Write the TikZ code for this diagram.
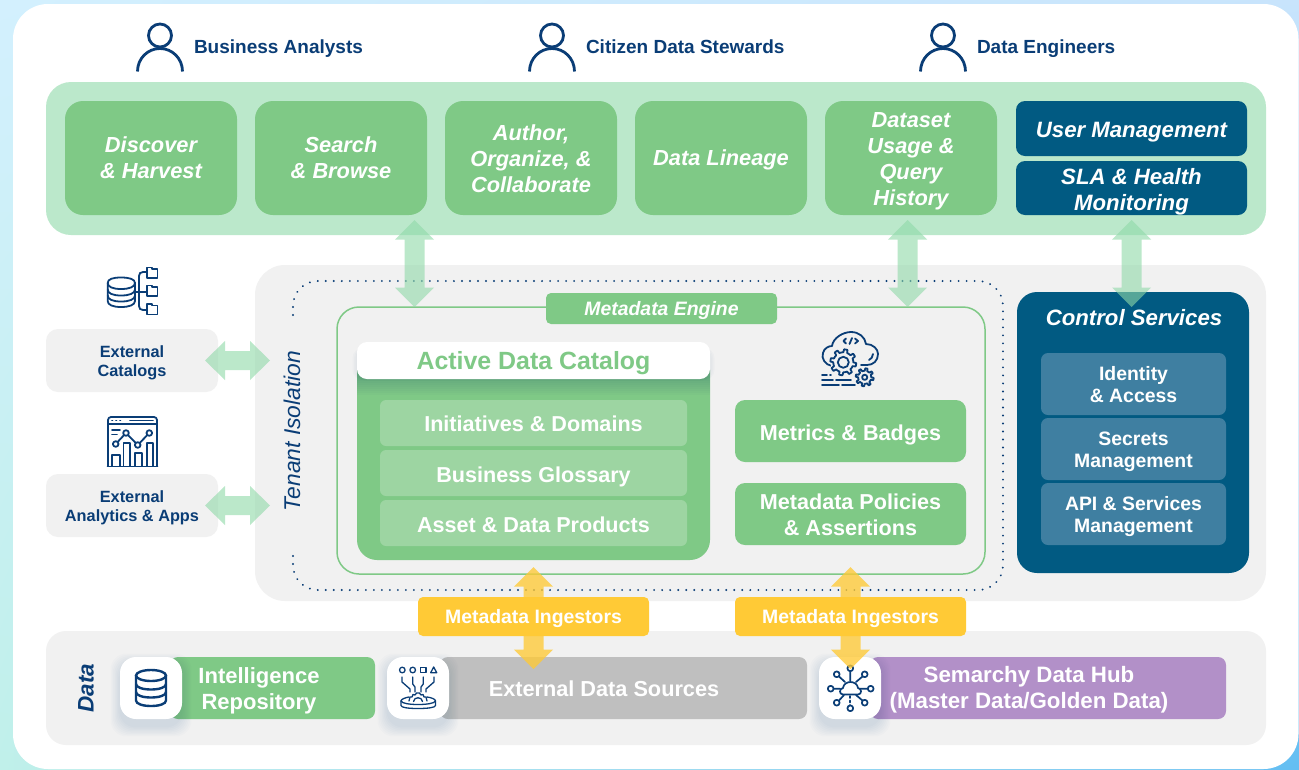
\documentclass[tikz,border=0pt]{standalone}
\usepackage{fontspec}
\setmainfont{Liberation Sans}
\usetikzlibrary{calc,shadings}
\definecolor{navy}{HTML}{0A3D76}
\definecolor{bandg}{HTML}{BBE8CB}
\definecolor{boxg}{HTML}{7FC986}
\definecolor{lightg}{HTML}{9DD5A2}
\definecolor{deepb}{HTML}{015A82}
\definecolor{midb}{HTML}{3F7FA1}
\definecolor{paleg}{HTML}{F1F1F1}
\definecolor{yell}{HTML}{FFCA36}
\definecolor{greyb}{HTML}{BFBFBF}
\definecolor{purp}{HTML}{B290C8}
\definecolor{arrowg}{HTML}{8FD9A8}
\definecolor{bgul}{HTML}{D3F0FE}
\definecolor{bgur}{HTML}{C8E4FC}
\definecolor{bgll}{HTML}{C0F0EA}
\definecolor{bglr}{HTML}{64BEF2}
\newcommand{\fsz}[2]{\fontsize{#1pt}{#2pt}\selectfont}
\newcommand{\capstrut}{\rule[-.214em]{0pt}{1.144em}}
\tikzset{
  strutted/.style={execute at begin node=\capstrut,execute at end node=\capstrut},
  bx/.style={inner sep=0pt,outer sep=0pt,align=center,text=white,strutted},
  ital/.style={font=\fsz{21.8}{26}\bfseries\itshape},
  plain/.style={font=\fsz{21.6}{26}\bfseries},
  ico/.style={draw=navy,line width=1.8pt,line cap=round,line join=round},
  lab/.style={inner sep=0pt,outer sep=0pt,align=center,text=white,strutted},
  darklab/.style={inner sep=0pt,outer sep=0pt,align=center,text=navy,strutted},
  userlab/.style={inner sep=0pt,outer sep=0pt,text=navy,anchor=base west,font=\fsz{19}{22}\bfseries},
  greenarrow/.style={fill=arrowg,opacity=.6},
  yellowarrow/.style={fill=yell,opacity=.78},
}
% \bx[text offset]{name}{style}{x1}{y1}{x2}{y2}{text}: a box, and its label as a node named <name>t
\newcommand{\bx}[8][0]{%
  \pgfmathsetmacro\cx{(#4+#6)/2}\pgfmathsetmacro\cy{(#5+#7)/2}%
  \pgfmathsetmacro\ww{#6-#4}\pgfmathsetmacro\hh{#7-#5}\pgfmathsetmacro\ty{\cy+#1}%
  \node[bx,minimum width=\ww pt,minimum height=\hh pt,#3] (#2) at (\cx,\cy) {};
  \node[bx,#3,fill=none,draw=none] (#2t) at (\cx,\ty) {#8};}
\newcommand{\softshadow}[5]{%
  \foreach \e in {1,...,8}{%
    \pgfmathsetmacro\xa{#1-\e*1.3+1}\pgfmathsetmacro\xb{#3+\e*1.3-1}%
    \pgfmathsetmacro\ya{#2-\e*1.3+7}\pgfmathsetmacro\yb{#4+\e*1.3+7}%
    \fill[navy,opacity=.017,rounded corners=#5pt] (\xa,\ya) rectangle (\xb,\yb);}}
\newcommand{\dblV}[3]{%
  \fill[#3] (#1) -- ($(#1)+(19.5,19.5)$) -- ($(#1)+(10,19.5)$) -- ($(#2)+(10,-19.5)$) -- ($(#2)+(19.5,-19.5)$) -- (#2)
   -- ($(#2)+(-19.5,-19.5)$) -- ($(#2)+(-10,-19.5)$) -- ($(#1)+(-10,19.5)$) -- ($(#1)+(-19.5,19.5)$) -- cycle;}
\newcommand{\dblH}[3]{%
  \fill[#3] (#1) -- ($(#1)+(20,-19.5)$) -- ($(#1)+(20,-9.5)$) -- ($(#2)+(-20,-9.5)$) -- ($(#2)+(-20,-19.5)$) -- (#2)
   -- ($(#2)+(-20,19.5)$) -- ($(#2)+(-20,9.5)$) -- ($(#1)+(20,9.5)$) -- ($(#1)+(20,19.5)$) -- cycle;}
\newcommand{\person}[1]{%
  \begin{scope}[shift={(#1,0)}]
  \draw[navy,line width=2.8pt] (0,35.5) circle (11.5);
  \draw[navy,line width=2.8pt] (-22.5,71.5) .. controls (-22.5,58.6) and (-12.4,48.5) .. (0,48.5) .. controls (12.4,48.5) and (22.5,58.6) .. (22.5,71.5);
  \end{scope}}
\newcommand{\gear}[5]{% cx cy r teeth-height fill
  \fill[#5] (#1,#2) circle (#3+#4);
  \draw[navy,line width=1.8pt,line join=round,fill=#5] plot[domain=0:360,samples=97,variable=\t] ({#1+(#3+#4*(sin(8*\t)>0))*cos(\t)},{#2+(#3+#4*(sin(8*\t)>0))*sin(\t)}) -- cycle;}
\begin{document}
\begin{tikzpicture}[x=1pt,y=-1pt]
\useasboundingbox (0,0) rectangle (1299,769);
\shade[upper left=bgul,upper right=bgur,lower left=bgll,lower right=bglr] (0,0) rectangle (1299,769);
\fill[white,rounded corners=35pt] (13,4) rectangle (1298.5,769);

% users
\person{160}\person{552}\person{943}
\node[userlab] (ba) at (194,53.5) {Business Analysts};
\node[userlab] (cs) at (586,53.5) {Citizen Data Stewards};
\node[userlab] (de) at (977,53.5) {Data Engineers};

% top band
\bx{band}{fill=bandg,rounded corners=25pt}{46}{82}{1266}{235}{}
\bx[2]{discover}{fill=boxg,rounded corners=18pt,ital}{65}{101}{237}{215}{Discover\\\& Harvest}
\bx[2]{search}{fill=boxg,rounded corners=18pt,ital}{255}{101}{427}{215}{Search\\\& Browse}
\bx[2.5]{author}{fill=boxg,rounded corners=18pt,ital}{445}{101}{617}{215}{Author,\\Organize, \&\\Collaborate}
\bx{lineage}{fill=boxg,rounded corners=18pt,ital}{635}{101}{807}{215}{Data Lineage}
\bx[3.5]{usage}{fill=boxg,rounded corners=18pt,ital}{825}{101}{997}{215}{Dataset\\Usage \&\\Query\\History}
\bx[1.5]{users}{fill=deepb,rounded corners=9pt,font=\fsz{22.2}{26}\bfseries\itshape}{1016}{101}{1247}{156}{User Management}
\bx[4]{sla}{fill=deepb,rounded corners=9pt,font=\fsz{22.2}{26}\bfseries\itshape}{1016}{161}{1247}{215}{SLA \& Health\\Monitoring}

% middle
\bx{tenant}{fill=paleg,rounded corners=30pt}{255}{265}{1266}{601}{}
\draw[navy,line width=2.1pt,dash pattern=on 0.01pt off 8pt,line cap=round] (293,315) -- (293,306) .. controls (293,292) and (304,281) .. (318,281) -- (978,281) .. controls (992,281) and (1003,292) .. (1003,306) -- (1003,565) .. controls (1003,579) and (992,590) .. (978,590) -- (318,590) .. controls (304,590) and (293,579) .. (293,565) -- (293,552);
\node[darklab,rotate=90,font=\fsz{22.8}{26}\itshape] (iso) at (292,431) {Tenant Isolation};
\bx{engine}{draw=boxg,line width=1.5pt,rounded corners=22pt}{337}{307}{985}{574}{}
\bx[0.5]{enginelab}{fill=boxg,rounded corners=5pt,font=\fsz{19.4}{22}\bfseries\itshape}{546}{293}{777}{324}{Metadata Engine}

\bx{catalog}{fill=boxg,rounded corners=20pt}{357}{350}{710}{560}{}
\begin{scope}
\clip[rounded corners=20pt] (357,350) rectangle (710,560);
\foreach \e in {1,...,8}{\pgfmathsetmacro\yb{379+\e*2}\fill[navy,opacity=.022] (357,370) rectangle (710,\yb);}
\end{scope}
\foreach \e in {1,...,3}{\pgfmathsetmacro\xa{357-\e*1.5}\pgfmathsetmacro\xb{710+\e*1.5}\fill[navy,opacity=.02,rounded corners=10pt] (\xa,348) rectangle (\xb,380);}
\bx{cathead}{fill=white,rounded corners=10pt,text=boxg,font=\fsz{24.9}{28}\bfseries}{357}{342}{710}{379}{Active Data Catalog}
\bx[1]{init}{fill=lightg,rounded corners=6pt,plain}{380}{400}{687}{446}{Initiatives \& Domains}
\bx[1.5]{gloss}{fill=lightg,rounded corners=6pt,plain}{380}{450}{687}{496}{Business Glossary}
\bx[1.5]{asset}{fill=lightg,rounded corners=6pt,plain}{380}{500}{687}{546}{Asset \& Data Products}
\bx[1.5]{metrics}{fill=boxg,rounded corners=10pt,plain}{735}{400}{966}{462}{Metrics \& Badges}
\bx[3]{policies}{fill=boxg,rounded corners=10pt,plain}{735}{483}{966}{545}{Metadata Policies\\\& Assertions}

% cloud + gears icon
\draw[ico] (832,366) .. controls (825,365) and (821,358) .. (823,353) .. controls (824,348) and (829,346) .. (832,346) .. controls (833,338) and (843,332) .. (851,332) .. controls (859,332) and (865,337) .. (866,344) .. controls (873,344) and (878,349) .. (878,354) .. controls (878,361) and (873,365) .. (867,365) -- (861,365);
\draw[ico] (873,354) .. controls (873,357) and (871,359) .. (869,360);
\draw[ico] (846,338.5) -- (843.5,341) -- (846,343.5);
\draw[ico] (849.5,344) -- (852,338);
\draw[ico] (855,338.5) -- (858,341) -- (855,343.5);
\gear{843.3}{362.3}{10}{3}{paleg}
\draw[ico] (843.3,362.3) circle (5.5);
\gear{864.7}{377.3}{6.5}{2.5}{paleg}
\draw[ico] (864.7,377.3) circle (2.6);
\draw[ico] (822,375.3) -- (827,375.3) (830,375.3) -- (831,375.3);
\draw[ico] (822,380) -- (833,380) (836,380) -- (851,380);
\draw[ico] (822,385) -- (839,385) (842,385) -- (855,385);

% external
\bx[2]{extcat}{fill=paleg,rounded corners=12pt,text=navy,font=\fsz{16.3}{19}\bfseries}{46}{329}{218}{392}{External\\Catalogs}
\bx[2]{extapp}{fill=paleg,rounded corners=12pt,text=navy,font=\fsz{16.3}{19}\bfseries}{46}{474}{218}{537}{External\\Analytics \& Apps}

% DB-tree icon
\draw[ico,fill=white] (135,283) .. controls (135,279) and (129,277.5) .. (121,277.5) .. controls (113,277.5) and (107.7,279) .. (107.7,283) -- (107.7,301) .. controls (107.7,305) and (113,307) .. (121,307) .. controls (129,307) and (135,305) .. (135,301) -- cycle;
\draw[ico] (107.7,283) .. controls (107.7,287) and (113,289) .. (121,289) .. controls (129,289) and (135,287) .. (135,283);
\draw[ico] (107.7,289.5) .. controls (107.7,293.5) and (113,295.5) .. (121,295.5) .. controls (129,295.5) and (135,293.5) .. (135,289.5);
\draw[ico] (107.7,295.5) .. controls (107.7,299.5) and (113,301.5) .. (121,301.5) .. controls (129,301.5) and (135,299.5) .. (135,295.5);
\draw[ico] (135,292) -- (147,292);
\draw[ico] (147,272) -- (143,272) .. controls (140.5,272) and (139,273.5) .. (139,276) -- (139,306) .. controls (139,308.5) and (140.5,310) .. (143,310) -- (147,310);
\foreach \yy in {267.5,285.5,304}{
  \draw[ico] (147,\yy) -- (152,\yy) -- (152,\yy+1.5) -- (157.5,\yy+1.5) -- (157.5,\yy+10.5) -- (147,\yy+10.5) -- cycle;
}
% analytics icon
\draw[ico,rounded corners=3pt] (108,466) -- (108,417) -- (157,417) -- (157,466);
\draw[ico] (108,424) -- (157,424);
\draw[ico] (107.5,466.5) -- (157.5,466.5);
\draw[ico] (112,420.5) -- (112.5,420.5) (116,420.5) -- (116.5,420.5) (120,420.5) -- (120.5,420.5) (130,420.5) -- (153,420.5);
\draw[ico] (112,430) -- (120,430) (112,434.5) -- (117,434.5);
\draw[ico] (115.7,444) -- (126,433) -- (137.7,445) -- (149.3,433);
\foreach \px/\py in {115.7/444,126/433,137.7/445,149.3/433}{\draw[ico,fill=white] (\px,\py) circle (2.8);}
\draw[ico] (112,466) -- (112,455) -- (120,455) -- (120,466);
\draw[ico] (123.5,466) -- (123.5,443) -- (130,443) -- (130,466);
\draw[ico] (135,466) -- (135,453) -- (142,453) -- (142,466);
\draw[ico] (147,466) -- (147,443) -- (153,443) -- (153,466);

% control services
\bx{control}{fill=deepb,rounded corners=20pt}{1017}{292}{1249}{573}{}
\node[lab,font=\fsz{22.2}{26}\bfseries\itshape] (ctitle) at (1134,318) {Control Services};
\bx[3]{identity}{fill=midb,rounded corners=7pt,font=\fsz{19.4}{22}\bfseries}{1041}{353}{1226}{415}{Identity\\\& Access}
\bx[3]{secrets}{fill=midb,rounded corners=7pt,font=\fsz{19.4}{22}\bfseries}{1041}{418}{1226}{480}{Secrets\\Management}
\bx[3]{api}{fill=midb,rounded corners=7pt,font=\fsz{19.4}{22}\bfseries}{1041}{483}{1226}{545}{API \& Services\\Management}

% data band
\bx{databand}{fill=paleg,rounded corners=20pt}{46}{631}{1266}{745}{}
\node[darklab,rotate=90,font=\fsz{22.5}{24}\bfseries\itshape] (datat) at (85.5,688) {Data};
\bx{repo}{fill=boxg,rounded corners=8pt}{170}{657}{375}{719}{}
\bx{sources}{fill=greyb,rounded corners=8pt}{440}{657}{807}{719}{}
\bx{hub}{fill=purp,rounded corners=8pt}{870}{657}{1226}{719}{}
\node[lab,font=\fsz{22}{26}\bfseries] (repot) at (259,690.5) {Intelligence\\Repository};
\node[lab,font=\fsz{21.7}{26}\bfseries] (srct) at (604,688.5) {External Data Sources};
\node[lab,font=\fsz{22.3}{26}\bfseries] (hubt) at (1029,689.5) {Semarchy Data Hub\\(Master Data/Golden Data)};
\softshadow{120}{657}{182}{719}{16}
\softshadow{387}{657}{449}{719}{16}
\softshadow{819}{657}{881}{719}{16}
\bx{repoi}{fill=white,rounded corners=16pt}{120}{657}{182}{719}{}
\bx{srci}{fill=white,rounded corners=16pt}{387}{657}{449}{719}{}
\bx{hubi}{fill=white,rounded corners=16pt}{819}{657}{881}{719}{}

% database icon
\begin{scope}[navy,line width=2.4pt]
\draw (151,675.5) ellipse [x radius=15,y radius=5.5];
\draw (136,675.5) -- (136,700.5) .. controls (136,704) and (143,706) .. (151,706) .. controls (159,706) and (166,704) .. (166,700.5) -- (166,675.5);
\draw (136,684) .. controls (136,687.5) and (143,689.5) .. (151,689.5) .. controls (159,689.5) and (166,687.5) .. (166,684);
\draw (136,692) .. controls (136,695.5) and (143,697.5) .. (151,697.5) .. controls (159,697.5) and (166,695.5) .. (166,692);
\end{scope}

% sources icon
\begin{scope}[ico,line width=1.3pt]
\draw (402.3,670) circle (2.8);
\draw (412.7,670) circle (2.8);
\draw (420.6,667.3) rectangle (426,672.7);
\draw (433.7,667) -- (436.7,672.7) -- (430.7,672.7) -- cycle;
\draw (402,677) -- (402,682) -- (410,689) -- (410,692);
\draw (412.7,677) -- (412.7,684) -- (415,687) -- (415,692);
\draw (423.3,677) -- (423.3,684) -- (421,687) -- (421,692);
\draw (434,677) -- (434,682) -- (426,689) -- (426,692);
\draw (401,701) -- (401,705.5) .. controls (401,707.5) and (408,708.5) .. (418,708.5) .. controls (428,708.5) and (435.5,707.5) .. (435.5,705.5) -- (435.5,701);
\draw (401,701) .. controls (401,699) and (406,697.5) .. (409,697) (427,697) .. controls (431,697.5) and (435.5,699) .. (435.5,701);
\draw (401,701) .. controls (402,703.5) and (410,704.5) .. (418,704.5) .. controls (426,704.5) and (434.5,703.5) .. (435.5,701);
\draw (409,701) -- (410,697) -- (412,697) -- (413,694.5) -- (415,695) -- (416.5,693) -- (419.5,693) -- (421,695) -- (423,694.5) -- (424,697) -- (426,697) -- (427,701);
\draw (413.5,701.5) .. controls (414,696.5) and (422,696.5) .. (422.5,701.5);
\end{scope}

% hub icon
\begin{scope}[ico,line width=1.7pt]
\foreach \hx/\hy in {836.7/674.3,864.7/674.3,830.7/688.7,870.7/688.7,836.7/702.7,864.7/702.7,850.3/708.3,850.3/668.3}{\draw (\hx,\hy) circle (2.9);}
\draw (839,676.5) -- (845,682) (862.5,676.5) -- (856,682) (833.7,688.7) -- (840,688.7) (867.7,688.7) -- (860,688.7) (839,700.5) -- (844,695) (862.5,700.5) -- (856,695) (850.3,671.3) -- (850.3,681);
\draw[dash pattern=on 2pt off 2.5pt] (850.3,696) -- (850.3,705);
\draw (843,694.5) .. controls (839,694.5) and (839,688.5) .. (843,688) .. controls (843.5,684) and (847,682) .. (850.5,682) .. controls (854,682) and (857.5,684) .. (858,688) .. controls (862,688.5) and (862,694.5) .. (858,694.5) -- cycle;
\end{scope}

% connectors
\coordinate (a1) at (414.5,220); \coordinate (a2) at (414.5,307);
\coordinate (b1) at (907.5,220); \coordinate (b2) at (907.5,307);
\coordinate (c1) at (1131.5,220); \coordinate (c2) at (1131.5,307);
\coordinate (d1) at (205,360.5); \coordinate (d2) at (270,360.5);
\coordinate (e1) at (205,505.5); \coordinate (e2) at (270,505.5);
\coordinate (f1) at (533.5,567); \coordinate (f2) at (533.5,669);
\coordinate (g1) at (850.5,567); \coordinate (g2) at (850.5,669);
\dblV{a1}{a2}{greenarrow}
\dblV{b1}{b2}{greenarrow}
\dblV{c1}{c2}{greenarrow}
\dblH{d1}{d2}{greenarrow}
\dblH{e1}{e2}{greenarrow}
\dblV{f1}{f2}{yellowarrow}
\dblV{g1}{g2}{yellowarrow}
\bx{ing1}{fill=yell,rounded corners=5pt,font=\fsz{19.4}{22}\bfseries}{418}{597}{649}{636}{Metadata Ingestors}
\bx{ing2}{fill=yell,rounded corners=5pt,font=\fsz{19.4}{22}\bfseries}{735}{597}{966}{636}{Metadata Ingestors}
\end{tikzpicture}
\end{document}
